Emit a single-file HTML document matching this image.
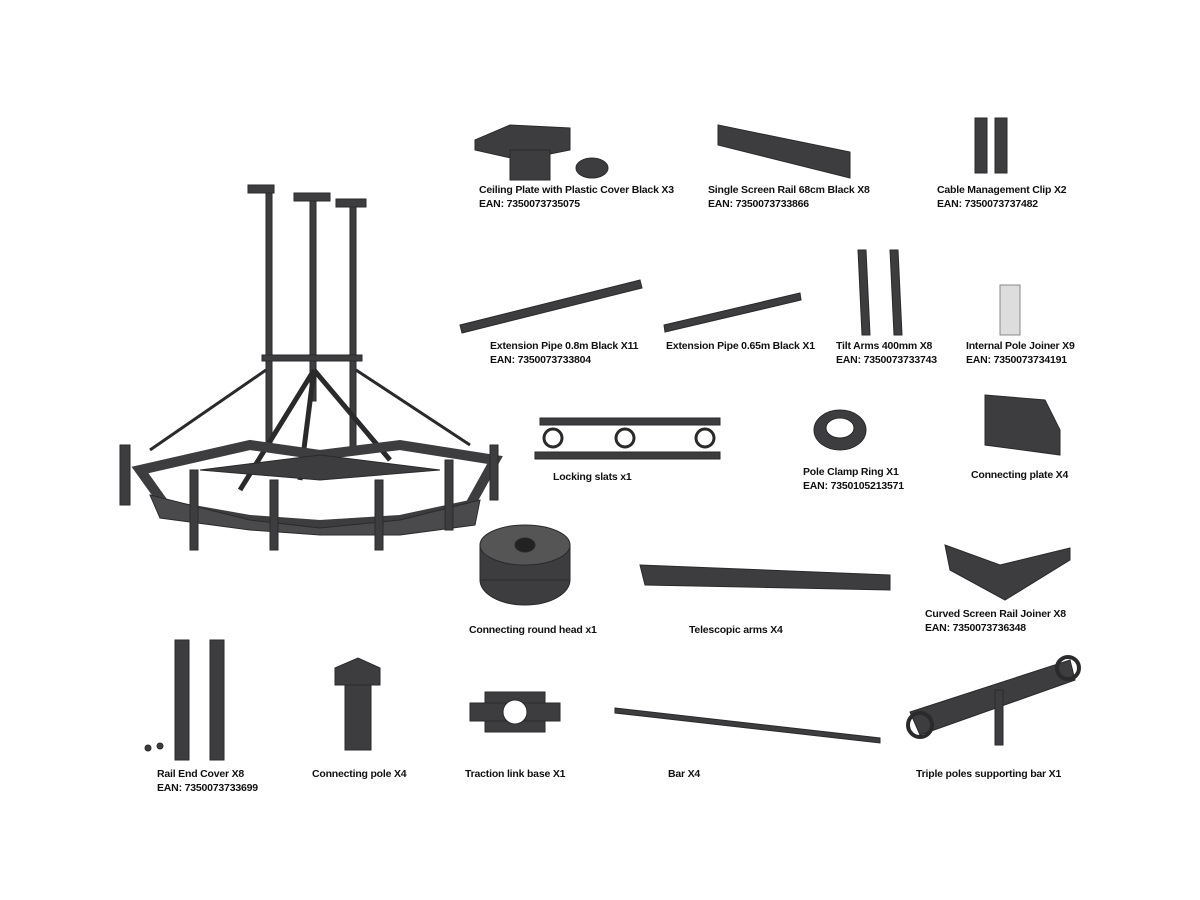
<!DOCTYPE html>
<html><head><meta charset="utf-8"><style>
body{margin:0;background:#fff;width:1200px;height:900px;overflow:hidden;position:relative;font-family:"Liberation Sans",sans-serif}
.t{position:absolute;font-size:10.5px;line-height:13.5px;color:#111;white-space:nowrap;font-weight:bold;letter-spacing:-0.2px}
svg{position:absolute;left:0;top:0}
</style></head><body>
<svg width="1200" height="900" viewBox="0 0 1200 900">
<g fill="#3d3d3f" stroke="#2a2a2a" stroke-width="1">
<!-- main assembly -->
<rect x="248" y="185" width="26" height="8"/><rect x="294" y="193" width="36" height="8"/><rect x="336" y="199" width="30" height="8"/>
<rect x="266" y="193" width="6" height="250"/><rect x="310" y="201" width="6" height="200"/><rect x="350" y="207" width="6" height="240"/>
<rect x="262" y="355" width="100" height="6"/>
<line x1="314" y1="370" x2="240" y2="490" stroke-width="5"/><line x1="314" y1="370" x2="390" y2="460" stroke-width="5"/><line x1="314" y1="370" x2="300" y2="480" stroke-width="5"/>
<line x1="266" y1="370" x2="150" y2="450" stroke-width="3"/><line x1="356" y1="370" x2="470" y2="445" stroke-width="3"/>
<polygon points="140,470 250,445 320,455 400,445 495,460 470,505 400,520 320,525 250,520 165,505" fill="none" stroke="#3d3d3f" stroke-width="10"/>
<polygon points="150,495 250,520 320,528 400,520 480,500 475,525 400,535 320,535 250,530 160,518" fill="#4a4a4c"/>
<polygon points="200,470 320,455 440,470 320,480" fill="#3d3d3f"/>
<rect x="120" y="445" width="10" height="60"/><rect x="190" y="470" width="8" height="80"/><rect x="270" y="480" width="8" height="70"/><rect x="375" y="480" width="8" height="70"/><rect x="445" y="460" width="8" height="70"/><rect x="490" y="445" width="8" height="55"/>
<!-- ceiling plate -->
<polygon points="475,140 510,125 570,128 570,150 520,160 475,150"/><rect x="510" y="150" width="40" height="30"/><ellipse cx="592" cy="168" rx="16" ry="10"/>
<!-- rail -->
<polygon points="718,125 850,152 850,178 718,145"/>
<!-- cable clip -->
<rect x="975" y="118" width="12" height="55"/><rect x="995" y="118" width="12" height="55"/>
<!-- ext pipes -->
<polygon points="460,325 640,280 642,288 462,333"/>
<polygon points="664,325 800,293 801,300 665,332"/>
<!-- tilt arms -->
<polygon points="858,250 866,250 870,335 862,335"/><polygon points="890,250 898,250 902,335 894,335"/>
<!-- joiner -->
<rect x="1000" y="285" width="20" height="50" fill="#ddd" stroke="#888"/>
<!-- slats -->
<rect x="540" y="418" width="180" height="7"/><rect x="535" y="452" width="185" height="7"/>
<circle cx="553" cy="438" r="9" fill="none" stroke-width="3"/><circle cx="625" cy="438" r="9" fill="none" stroke-width="3"/><circle cx="705" cy="438" r="9" fill="none" stroke-width="3"/>
<!-- clamp ring -->
<ellipse cx="840" cy="430" rx="26" ry="20"/><ellipse cx="840" cy="428" rx="14" ry="10" fill="#fff"/>
<!-- connecting plate -->
<polygon points="985,395 1045,400 1060,430 1060,455 985,445"/>
<!-- round head -->
<ellipse cx="525" cy="580" rx="45" ry="25"/><rect x="480" y="545" width="90" height="35"/><ellipse cx="525" cy="545" rx="45" ry="20" fill="#555"/><ellipse cx="525" cy="545" rx="10" ry="7" fill="#222"/>
<!-- telescopic -->
<polygon points="640,565 890,575 890,590 645,585"/>
<!-- curved joiner -->
<polygon points="945,545 1000,565 1070,548 1070,560 1005,600 950,570"/>
<!-- rail end cover -->
<rect x="175" y="640" width="14" height="120"/><rect x="210" y="640" width="14" height="120"/><circle cx="148" cy="748" r="3"/><circle cx="160" cy="746" r="3"/>
<!-- connecting pole -->
<rect x="345" y="680" width="26" height="70"/><polygon points="335,668 358,658 380,668 380,685 335,685"/>
<!-- traction base -->
<rect x="485" y="692" width="60" height="40"/><rect x="470" y="703" width="90" height="18"/><circle cx="515" cy="712" r="12" fill="#fff"/>
<!-- bar -->
<polygon points="615,708 880,738 880,743 615,713"/>
<!-- triple poles bar -->
<polygon points="910,712 1070,660 1075,680 920,735"/><rect x="995" y="690" width="8" height="55"/><circle cx="920" cy="725" r="12" fill="none" stroke-width="4"/><circle cx="1068" cy="668" r="11" fill="none" stroke-width="4"/>
</g>
</svg>
<div class="t" style="left:479px;top:184px">Ceiling Plate with Plastic Cover Black X3<br>EAN: 7350073735075</div>
<div class="t" style="left:708px;top:184px">Single Screen Rail 68cm Black X8<br>EAN: 7350073733866</div>
<div class="t" style="left:937px;top:184px">Cable Management Clip X2<br>EAN: 7350073737482</div>
<div class="t" style="left:490px;top:340px">Extension Pipe 0.8m Black X11<br>EAN: 7350073733804</div>
<div class="t" style="left:666px;top:340px">Extension Pipe 0.65m Black X1</div>
<div class="t" style="left:836px;top:340px">Tilt Arms 400mm X8<br>EAN: 7350073733743</div>
<div class="t" style="left:966px;top:340px">Internal Pole Joiner X9<br>EAN: 7350073734191</div>
<div class="t" style="left:553px;top:471px">Locking slats x1</div>
<div class="t" style="left:803px;top:466px">Pole Clamp Ring X1<br>EAN: 7350105213571</div>
<div class="t" style="left:971px;top:469px">Connecting plate X4</div>
<div class="t" style="left:469px;top:624px">Connecting round head x1</div>
<div class="t" style="left:689px;top:624px">Telescopic arms X4</div>
<div class="t" style="left:925px;top:608px">Curved Screen Rail Joiner X8<br>EAN: 7350073736348</div>
<div class="t" style="left:157px;top:768px">Rail End Cover X8<br>EAN: 7350073733699</div>
<div class="t" style="left:312px;top:768px">Connecting pole X4</div>
<div class="t" style="left:465px;top:768px">Traction link base X1</div>
<div class="t" style="left:668px;top:768px">Bar X4</div>
<div class="t" style="left:916px;top:768px">Triple poles supporting bar X1</div>
</body></html>
